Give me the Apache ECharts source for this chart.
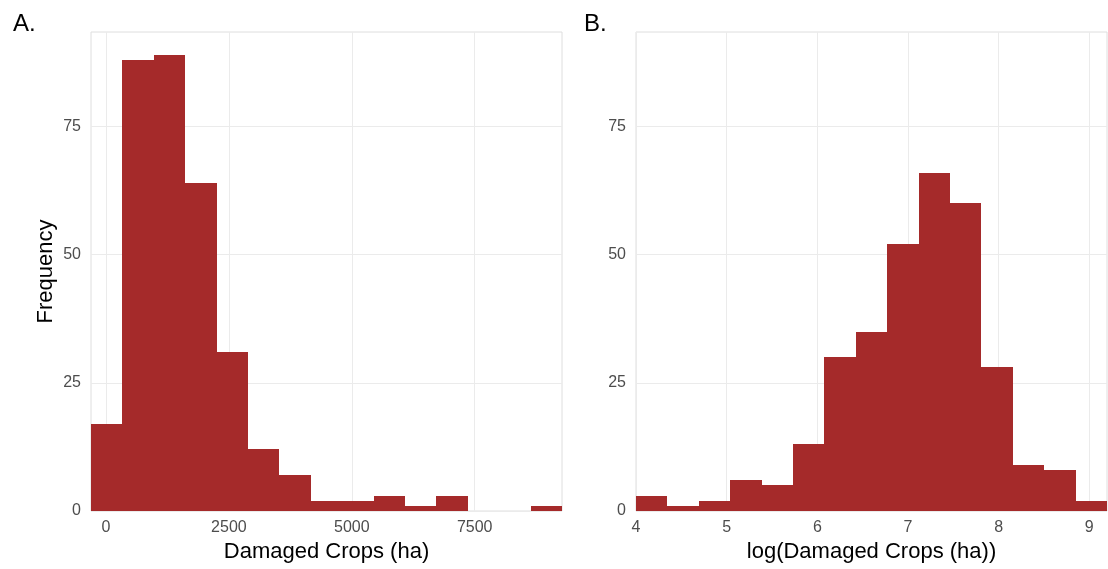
<!DOCTYPE html>
<html>
<head>
<meta charset="utf-8">
<script src="https://cdn.jsdelivr.net/npm/echarts@6/dist/echarts.min.js"></script>
<style>html,body{margin:0;padding:0;background:#fff}#c{width:1108px;height:569px}</style>
</head>
<body>
<div id="c"></div>
<script>
// Panel A: raw damaged crops (ha)
var edgesA = [-305, 334, 972, 1611, 2250, 2889, 3527, 4166, 4805, 5444, 6082, 6721, 7360, 7999, 8637, 9276];
var countsA = [17, 88, 89, 64, 31, 12, 7, 2, 2, 3, 1, 3, 0, 0, 1];
var ticksA = [0, 2500, 5000, 7500];
// Panel B: log(damaged crops)
var edgesB = [4.000, 4.346, 4.693, 5.039, 5.385, 5.732, 6.078, 6.424, 6.770, 7.117, 7.463, 7.809, 8.156, 8.502, 8.848, 9.195];
var countsB = [3, 1, 2, 6, 5, 13, 30, 35, 52, 66, 60, 28, 9, 8, 2];
var ticksB = [4, 5, 6, 7, 8, 9];
var ticksY = [0, 25, 50, 75];
var yMax = 93.45;

var FONT = 'Liberation Sans, Arial, Helvetica, sans-serif';
var BAR = '#A52A2A';
var GRIDC = '#ebebeb';

function binData(edges, counts) {
  return counts.map(function (c, i) { return [edges[i], edges[i + 1], c]; });
}
function renderBin(params, api) {
  var h = api.value(2);
  if (h <= 0) return null;
  var p0 = api.coord([api.value(0), 0]);
  var p1 = api.coord([api.value(1), h]);
  var x0 = Math.round(p0[0]), x1 = Math.round(p1[0]);
  var y0 = Math.round(p0[1]), y1 = Math.round(p1[1]);
  return {
    type: 'rect',
    shape: { x: x0, y: y1, width: x1 - x0, height: y0 - y1 },
    style: { fill: BAR }
  };
}
function plain(v) { return String(v); }
function xAxisDef(idx, edges, ticks, name) {
  return {
    type: 'value', gridIndex: idx,
    min: edges[0], max: edges[edges.length - 1],
    axisLine: { show: false },
    splitLine: { show: true, lineStyle: { color: GRIDC, width: 1 } },
    axisLabel: { customValues: ticks, formatter: plain, color: '#4d4d4d', fontSize: 16, fontFamily: FONT, margin: 9 },
    axisTick: { show: false, customValues: ticks },
    name: name, nameLocation: 'middle', nameGap: 30,
    nameTextStyle: { color: '#000', fontSize: 22, fontFamily: FONT }
  };
}
function yAxisDef(idx, name) {
  return {
    type: 'value', gridIndex: idx, min: 0, max: yMax,
    axisLine: { show: false },
    splitLine: { show: true, lineStyle: { color: GRIDC, width: 1 } },
    axisLabel: { customValues: ticksY, formatter: plain, color: '#4d4d4d', fontSize: 16, fontFamily: FONT, margin: 10 },
    axisTick: { show: false, customValues: ticksY },
    name: name, nameLocation: 'middle', nameGap: 34, nameRotate: 90,
    nameTextStyle: { color: '#000', fontSize: 22, fontFamily: FONT }
  };
}

var chart = echarts.init(document.getElementById('c'), null, { renderer: 'canvas' });
chart.setOption({
  animation: false,
  backgroundColor: '#fff',
  grid: [
    { left: 91, top: 32, width: 471, height: 479, show: true, borderColor: '#dedede', borderWidth: 1, backgroundColor: 'transparent' },
    { left: 636, top: 32, width: 471, height: 479, show: true, borderColor: '#dedede', borderWidth: 1, backgroundColor: 'transparent' }
  ],
  title: [
    { text: 'A.', left: 8, top: 7, textStyle: { fontSize: 24, fontWeight: 'normal', color: '#000', fontFamily: FONT } },
    { text: 'B.', left: 579, top: 7, textStyle: { fontSize: 24, fontWeight: 'normal', color: '#000', fontFamily: FONT } }
  ],
  xAxis: [
    xAxisDef(0, edgesA, ticksA, 'Damaged Crops (ha)'),
    xAxisDef(1, edgesB, ticksB, 'log(Damaged Crops (ha))')
  ],
  yAxis: [
    yAxisDef(0, 'Frequency'),
    yAxisDef(1, '')
  ],
  series: [
    { type: 'custom', xAxisIndex: 0, yAxisIndex: 0, renderItem: renderBin, data: binData(edgesA, countsA), encode: { x: [0, 1], y: 2 } },
    { type: 'custom', xAxisIndex: 1, yAxisIndex: 1, renderItem: renderBin, data: binData(edgesB, countsB), encode: { x: [0, 1], y: 2 } }
  ]
});
</script>
</body>
</html>
